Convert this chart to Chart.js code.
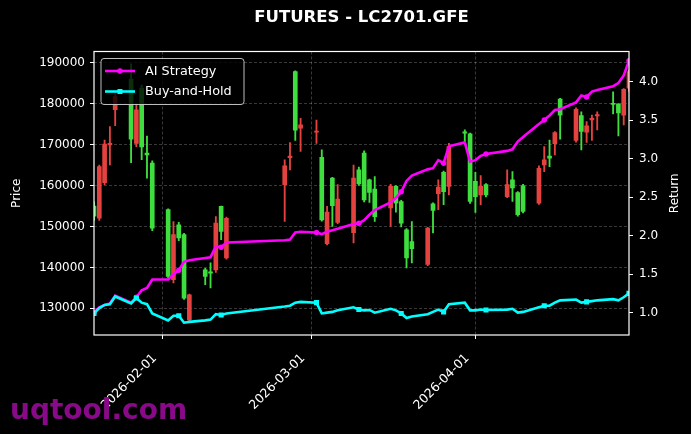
<!DOCTYPE html>
<html>
<head>
<meta charset="utf-8">
<script src="https://cdn.jsdelivr.net/npm/chart.js@4.4.1/dist/chart.umd.min.js"></script>
<style>
  html, body { margin: 0; padding: 0; background: #000; }
  #wrap { position: relative; width: 691px; height: 434px; }
</style>
</head>
<body>
<div id="wrap"><canvas id="c" width="691" height="434"></canvas></div>
<script>
// trading days
const dates = [
  '2026-01-19','2026-01-20','2026-01-21','2026-01-22','2026-01-23',
  '2026-01-26','2026-01-27','2026-01-28','2026-01-29','2026-01-30',
  '2026-02-02','2026-02-03','2026-02-04','2026-02-05','2026-02-06',
  '2026-02-09','2026-02-10','2026-02-11','2026-02-12','2026-02-13',
  '2026-02-24','2026-02-25','2026-02-26','2026-02-27',
  '2026-03-02','2026-03-03','2026-03-04','2026-03-05','2026-03-06',
  '2026-03-09','2026-03-10','2026-03-11','2026-03-12','2026-03-13',
  '2026-03-16','2026-03-17','2026-03-18','2026-03-19','2026-03-20',
  '2026-03-23','2026-03-24','2026-03-25','2026-03-26','2026-03-27',
  '2026-03-30','2026-03-31','2026-04-01','2026-04-02','2026-04-03',
  '2026-04-07','2026-04-08','2026-04-09','2026-04-10',
  '2026-04-13','2026-04-14','2026-04-15','2026-04-16','2026-04-17',
  '2026-04-20','2026-04-21','2026-04-22','2026-04-23','2026-04-24',
  '2026-04-27','2026-04-28','2026-04-29','2026-04-30'
];

const opens = [
  155000,152000,160700,169900,178500,
  186000,170300,183800,167900,165500,
  154100,137000,150400,148000,127200,
  139400,138900,139400,154900,142300,
  160200,166800,187800,174000,
  173000,166900,145800,161800,151000,
  148500,163800,167900,161400,159100,
  154500,159800,156100,149200,146300,
  140700,155500,158000,163200,159800,
  173100,172600,161000,157700,160200,
  157300,161400,158300,159900,
  155700,165000,167200,170200,181100,
  171000,177100,173000,176000,177000,
  180100,179900,177200,183800
];
const highs = [
  156000,165000,171100,174400,182500,
  189700,180000,184500,172100,166000,
  154300,151200,151000,148300,133500,
  139800,141100,152400,155000,152300,
  166300,170500,188000,176400,
  176000,168700,154900,162000,160200,
  165000,164500,168500,161600,162200,
  160300,160000,156400,149500,151200,
  149800,155800,161400,163500,170300,
  173600,172800,163200,162400,160500,
  163800,163400,158500,160300,
  164800,169500,171100,173200,181300,
  179000,178000,175600,177200,178000,
  182900,180000,183700,188200
];
const lows = [
  151500,151500,160200,165000,174600,
  165600,169500,166300,161800,149000,
  137500,136200,146500,132200,126900,
  135800,135000,138800,146800,142000,
  151200,163800,171000,168300,
  170300,151300,145500,150000,150700,
  146000,160000,156000,155900,151200,
  150000,153500,149900,139900,141100,
  140400,148400,154100,155300,157700,
  170300,155600,153400,155300,157200,
  157000,156100,152500,153300,
  155400,163400,164600,167500,171300,
  170600,168700,170500,171000,173600,
  177500,172100,174800,183000
];
const closes = [
  152500,164600,170100,170300,181700,
  171300,178500,169400,167500,149600,
  137800,148000,147200,132500,133300,
  137800,138600,150800,148800,152000,
  164800,167200,173500,174800,
  173300,151600,153500,155100,156700,
  161800,160400,156500,158300,152400,
  159800,155700,150800,142300,144600,
  149600,153900,159600,158500,169500,
  172800,156100,157300,159800,157700,
  160200,159400,152900,153700,
  164200,166300,166700,172900,177200,
  178600,173200,174600,176400,177300,
  179800,177700,183500,187800
];

const aiStrategy = [
  1.00,1.07,1.10,1.12,1.22,
  1.13,1.20,1.29,1.32,1.43,
  1.43,1.50,1.55,1.66,1.68,
  1.71,1.72,1.86,1.85,1.91,
  1.94,1.95,2.04,2.05,
  2.04,2.02,2.05,2.07,2.09,
  2.15,2.16,2.20,2.27,2.33,
  2.43,2.49,2.57,2.71,2.78,
  2.86,2.875,2.98,2.94,3.16,
  3.21,2.96,2.98,3.035,3.06,
  3.10,3.12,3.22,3.28,
  3.45,3.50,3.56,3.63,3.64,
  3.73,3.82,3.80,3.87,3.89,
  3.94,3.98,4.08,4.27
];
const buyHold = [
  0.99,1.06,1.10,1.11,1.21,
  1.12,1.19,1.13,1.11,0.99,
  0.90,0.96,0.96,0.87,0.88,
  0.90,0.91,0.98,0.97,0.99,
  1.08,1.09,1.13,1.14,
  1.13,0.99,1.00,1.01,1.03,
  1.07,1.04,1.03,1.035,1.00,
  1.05,1.03,0.99,0.93,0.95,
  0.98,1.01,1.04,1.01,1.11,
  1.13,1.03,1.03,1.04,1.035,
  1.04,1.05,1.00,1.01,
  1.07,1.09,1.09,1.13,1.16,
  1.17,1.13,1.14,1.15,1.16,
  1.175,1.16,1.20,1.25
];

const priceTicks = [130000, 140000, 150000, 160000, 170000, 180000, 190000];
const returnTicks = [1.0, 1.5, 2.0, 2.5, 3.0, 3.5, 4.0];
const dateTicks = ['2026-02-01', '2026-03-01', '2026-04-01'];

const UP = 'rgb(228,66,62)';
const DOWN = 'rgb(62,222,62)';
const DAY = 86400000;
const BASE = Date.UTC(2026, 1, 1);

function dayNum(s) {
  const p = s.split('-').map(Number);
  return (Date.UTC(p[0], p[1] - 1, p[2]) - BASE) / DAY;
}
function dayLabel(v) {
  const d = new Date(BASE + v * DAY);
  return d.toISOString().slice(0, 10);
}

const xs = dates.map(dayNum);
const candleColor = ctx => closes[ctx.dataIndex] > opens[ctx.dataIndex] ? UP : DOWN;
const markEvery = r => ctx => (ctx.dataIndex % 6 === 0 ? r : 0);
const gridColor = 'rgba(255,255,255,0.28)';

const bg = {
  id: 'bg',
  beforeDraw(chart) {
    const c = chart.ctx;
    c.save();
    c.fillStyle = '#000';
    c.fillRect(0, 0, chart.width, chart.height);
    c.restore();
  }
};

const frameAndLegend = {
  id: 'frameAndLegend',
  afterDatasetsDraw(chart) {
    const c = chart.ctx, a = chart.chartArea;
    c.save();
    c.strokeStyle = '#fff';
    c.lineWidth = 1.2;
    c.strokeRect(a.left, a.top, a.right - a.left, a.bottom - a.top);

    // legend box
    const lx = a.left + 7, ly = a.top + 7, lw = 143, lh = 46;
    c.beginPath();
    c.roundRect(lx, ly, lw, lh, 3);
    c.fillStyle = 'rgba(0,0,0,0.8)';
    c.fill();
    c.strokeStyle = 'rgba(210,210,210,0.9)';
    c.lineWidth = 1;
    c.stroke();

    const items = chart.data.datasets.filter(d => d.type === 'line');
    items.forEach((ds, i) => {
      const cy = ly + 12.5 + i * 20.5;
      c.strokeStyle = ds.borderColor;
      c.lineWidth = 2.6;
      c.beginPath();
      c.moveTo(lx + 4, cy);
      c.lineTo(lx + 34, cy);
      c.stroke();
      c.fillStyle = ds.borderColor;
      if (ds.pointStyle === 'rect') {
        c.fillRect(lx + 16.5, cy - 2.5, 5, 5);
      } else {
        c.beginPath();
        c.arc(lx + 19, cy, 2.7, 0, Math.PI * 2);
        c.fill();
      }
      c.fillStyle = '#fff';
      c.font = '12.8px "DejaVu Sans"';
      c.textBaseline = 'middle';
      c.textAlign = 'left';
      c.fillText(ds.label, lx + 44, cy + 0.5);
    });
    c.restore();
  },
  afterDraw(chart) {
    const c = chart.ctx, a = chart.chartArea;
    c.save();
    // right axis title, reading bottom to top
    c.fillStyle = '#fff';
    c.font = '12px "DejaVu Sans"';
    c.textAlign = 'center';
    c.textBaseline = 'middle';
    c.translate(675, (a.top + a.bottom) / 2);
    c.rotate(-Math.PI / 2);
    c.fillText('Return', 0, 0);
    c.restore();

    c.save();
    c.fillStyle = '#880a88';
    c.font = 'bold 28px "DejaVu Sans"';
    c.textBaseline = 'alphabetic';
    c.fillText('uqtool.com', 10, 419);
    c.restore();
  }
};

Chart.defaults.font.family = '"DejaVu Sans", sans-serif';
Chart.defaults.color = '#fff';

new Chart(document.getElementById('c'), {
  type: 'bar',
  data: {
    datasets: [
      {
        type: 'line', label: 'AI Strategy', yAxisID: 'y1', order: 1,
        data: xs.map((x, i) => ({ x: x, y: aiStrategy[i] })),
        borderColor: '#ff00ff', backgroundColor: '#ff00ff', borderWidth: 2.6,
        pointStyle: 'circle', pointRadius: markEvery(2.7), pointBorderWidth: 0,
        tension: 0
      },
      {
        type: 'line', label: 'Buy-and-Hold', yAxisID: 'y1', order: 0,
        data: xs.map((x, i) => ({ x: x, y: buyHold[i] })),
        borderColor: '#00ffff', backgroundColor: '#00ffff', borderWidth: 2.6,
        pointStyle: 'rect', pointRadius: markEvery(3.6), pointBorderWidth: 0,
        tension: 0
      },
      {
        label: 'body', yAxisID: 'y', order: 2, grouped: false,
        data: xs.map((x, i) => ({ x: x, y: [opens[i], closes[i]] })),
        backgroundColor: candleColor, barThickness: 4, borderWidth: 0
      },
      {
        label: 'wick', yAxisID: 'y', order: 3, grouped: false,
        data: xs.map((x, i) => ({ x: x, y: [lows[i], highs[i]] })),
        backgroundColor: candleColor, barThickness: 1.2, borderWidth: 0
      }
    ]
  },
  options: {
    responsive: false,
    animation: false,
    devicePixelRatio: 1,
    layout: { padding: 0 },
    plugins: {
      legend: { display: false },
      tooltip: { enabled: false },
      title: {
        display: true, text: 'FUTURES - LC2701.GFE', color: '#fff', fullSize: false,
        font: { size: 16.5, weight: 'bold' },
        padding: { top: 8, bottom: 23.7 }
      }
    },
    scales: {
      x: {
        type: 'linear', min: xs[0], max: xs[xs.length - 1], offset: false,
        afterBuildTicks: s => { s.ticks = dateTicks.map(d => ({ value: dayNum(d) })); },
        afterFit: s => { s.height = 99; },
        ticks: {
          color: '#fff', font: { size: 12.5 }, autoSkip: false,
          minRotation: 45, maxRotation: 45, padding: 12, labelOffset: -8,
          callback: v => dayLabel(v)
        },
        grid: { color: gridColor, lineWidth: 0.8, offset: false, tickColor: '#fff', tickLength: 4, tickWidth: 1 },
        border: { display: false, dash: [3, 2] }
      },
      y: {
        position: 'left', min: 123490, max: 192730,
        afterBuildTicks: s => { s.ticks = priceTicks.map(v => ({ value: v })); },
        afterFit: s => { s.width = 94; },
        ticks: { color: '#fff', font: { size: 12 }, padding: 5, callback: v => String(v) },
        grid: { color: gridColor, lineWidth: 0.8, tickColor: '#fff', tickLength: 4, tickWidth: 1 },
        border: { display: false, dash: [3, 2] },
        title: { display: true, text: 'Price', color: '#fff', font: { size: 12 }, padding: { top: 10, bottom: 0 } }
      },
      y1: {
        position: 'right', min: 0.71, max: 4.39,
        afterBuildTicks: s => { s.ticks = returnTicks.map(v => ({ value: v })); },
        afterFit: s => { s.width = 62; },
        ticks: { color: '#fff', font: { size: 12 }, padding: 6, callback: v => v.toFixed(1) },
        grid: { drawOnChartArea: false, tickColor: '#fff', tickLength: 4, tickWidth: 1 },
        border: { display: false },
        title: { display: false }
      }
    }
  },
  plugins: [bg, frameAndLegend]
});
</script>
</body>
</html>
